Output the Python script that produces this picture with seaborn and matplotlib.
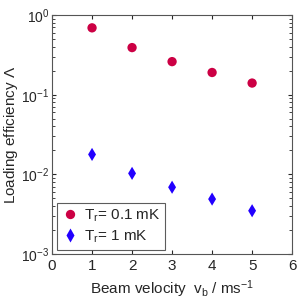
import pandas as pd
import seaborn as sns
import matplotlib.pyplot as plt
from matplotlib.ticker import LogLocator, NullFormatter

# valores
velocidade = [1, 2, 3, 4, 5]
eficiencia_01mK = [0.69, 0.39, 0.26, 0.19, 0.14]
eficiencia_1mK = [0.0178, 0.0103, 0.0069, 0.0049, 0.0035]
rotulos = [r'T$_\mathregular{r}$= 0.1 mK', r'T$_\mathregular{r}$= 1 mK']

dados = pd.DataFrame({
    'v': velocidade * 2,
    'ef': eficiencia_01mK + eficiencia_1mK,
    'serie': [rotulos[0]] * 5 + [rotulos[1]] * 5,
})

sns.set_style('ticks')
plt.rcParams['font.family'] = ['Liberation Sans', 'DejaVu Sans']
plt.rcParams['mathtext.fontset'] = 'custom'
plt.rcParams['mathtext.rm'] = 'Liberation Sans'
plt.rcParams['mathtext.it'] = 'Liberation Sans'

fig = plt.figure(figsize=(2.99, 3.0), dpi=100)
ax = fig.add_axes([0.174, 0.153, 0.803, 0.797])

sns.scatterplot(data=dados, x='v', y='ef', hue='serie', style='serie',
                palette=['#cc0044', '#2200ff'], markers=['o', 'd'],
                s=45, edgecolor='none', ax=ax)

ax.set_yscale('log')
ax.set_xlim(0, 6)
ax.set_ylim(1e-3, 1)
ax.set_xticks(range(7))
ax.yaxis.set_minor_locator(LogLocator(base=10, subs=range(2, 10)))
ax.yaxis.set_minor_formatter(NullFormatter())
ax.tick_params(direction='in', top=True, right=True, which='both', labelsize=11, length=3)
ax.tick_params(axis='y', labelsize=10, pad=2)
ax.tick_params(which='minor', length=2)
for s in ax.spines.values():
    s.set_color('#555555')
    s.set_linewidth(0.8)

ax.set_xlabel(r'Beam velocity  v$_\mathregular{b}$ / ms$^{-1}$', fontsize=11)
ax.set_ylabel(r'Loading efficiency $\Lambda$', fontsize=11)
ax.yaxis.set_label_coords(-0.135, 0.5)

leg = ax.legend(loc='lower left', fontsize=11, frameon=True, fancybox=False,
                handletextpad=0.3, borderpad=0.3, labelspacing=0.3,
                handlelength=1.2, borderaxespad=0.3)
leg.get_frame().set_edgecolor('#333333')
leg.get_frame().set_linewidth(0.8)

plt.savefig('out.png', dpi=100)
